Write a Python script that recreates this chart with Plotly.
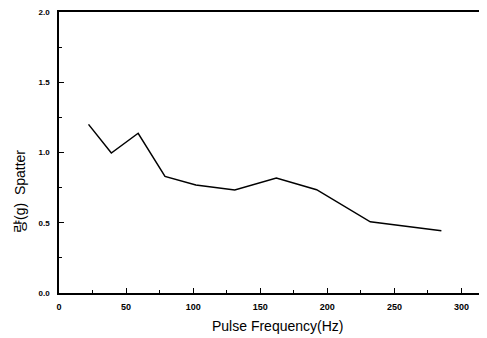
import plotly.graph_objects as go

freq = [22, 39, 59, 79, 102, 131, 162, 192, 232, 285]
spatter = [1.20, 0.996, 1.137, 0.83, 0.769, 0.733, 0.818, 0.735, 0.507, 0.443]

x_ticks = [0, 50, 100, 150, 200, 250, 300]
y_ticks = [0.0, 0.5, 1.0, 1.5, 2.0]
y_tick_labels = ["0.0", "0.5", "1.0", "1.5", "2.0"]

fig = go.Figure()
fig.add_trace(go.Scatter(x=freq, y=spatter, mode="lines",
                         line=dict(color="black", width=1.5), showlegend=False))

# page has an 8px body margin, so the figure is 479x330 and shifted by 8px
fig.update_layout(
    width=479, height=330,
    margin=dict(l=51, r=0, t=4, b=45),
    paper_bgcolor="white", plot_bgcolor="white",
    font=dict(family="Liberation Sans, Arial, Noto Sans CJK KR", color="black"),
)
fig.update_xaxes(
    automargin=False,
    range=[0, 319], tickvals=x_ticks, ticktext=[str(v) for v in x_ticks],
    showline=True, linecolor="black", linewidth=1.5, mirror=True,
    ticks="inside", ticklen=5, tickcolor="black", tickwidth=1.2,
    minor=dict(ticks="inside", dtick=25, tick0=0, ticklen=3, tickcolor="black"),
    showgrid=False, zeroline=False, ticklabeloverflow="allow", ticklabelstandoff=4,
    tickfont=dict(size=9, family="Liberation Sans, Arial", weight="bold"),
)
fig.update_yaxes(
    automargin=False,
    range=[0, 2.0], tickvals=y_ticks, ticktext=y_tick_labels,
    showline=True, linecolor="black", linewidth=1.5, mirror=False,
    ticks="inside", ticklen=5, tickcolor="black", tickwidth=1.2,
    minor=dict(ticks="inside", dtick=0.25, tick0=0, ticklen=3, tickcolor="black"),
    showgrid=False, zeroline=False, ticklabeloverflow="allow", ticklabelstandoff=6,
    tickfont=dict(size=8, family="Liberation Sans, Arial", weight="bold"),
)
fig.add_annotation(
    text="Pulse Frequency(Hz)", xref="paper", yref="paper", x=0.512, y=-0.117,
    showarrow=False, xanchor="center", yanchor="middle",
    font=dict(size=14, family="Liberation Sans, Arial", color="black"),
)
fig.add_annotation(
    text="량(g)  Spatter", xref="paper", yref="paper", x=-0.091, y=0.36,
    textangle=-90, showarrow=False, xanchor="center", yanchor="middle",
    font=dict(size=14, family="Liberation Sans, Noto Sans CJK KR", color="black"),
)
fig.write_html("out.html")
